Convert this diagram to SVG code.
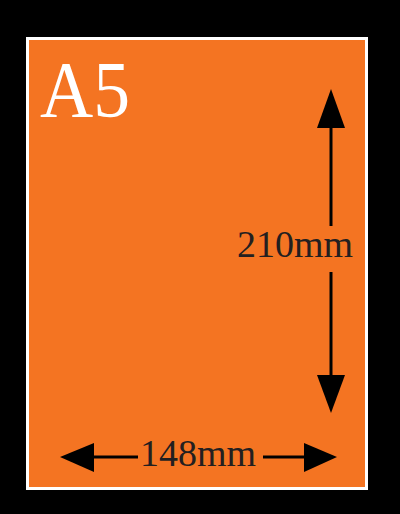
<svg xmlns="http://www.w3.org/2000/svg" width="400" height="514" viewBox="0 0 400 514">
<style>
.lbl{font-family:"Liberation Serif","Times New Roman",serif;font-size:38px;fill:#231f20}
.line{stroke:#000;stroke-width:3;fill:none}
.head{fill:#000}
</style>
<rect x="0" y="0" width="400" height="514" fill="#000"/>
<g id="sheet">
<rect x="27.5" y="38.5" width="339" height="450" fill="#f47422" stroke="#fff" stroke-width="3"/>
<text x="40" y="117" font-family="Liberation Serif,'Times New Roman',serif" font-size="80" fill="#fff" textLength="90" lengthAdjust="spacingAndGlyphs">A5</text>
</g>
<g id="connectors">
<line class="line" x1="331" y1="125" x2="331" y2="226"/>
<polygon class="head" points="331,89 317,128 345,128"/>
<line class="line" x1="331" y1="272" x2="331" y2="377"/>
<polygon class="head" points="331,413 317,375 345,375"/>
<line class="line" x1="91" y1="457" x2="138" y2="457"/>
<polygon class="head" points="60,457 94,443 94,472"/>
<line class="line" x1="263" y1="457" x2="307" y2="457"/>
<polygon class="head" points="337,457 304,443 304,472"/>
</g>
<g id="label-height"><text class="lbl" x="237" y="257" textLength="116" lengthAdjust="spacingAndGlyphs">210mm</text></g>
<g id="label-width"><text class="lbl" x="140" y="466" textLength="116" lengthAdjust="spacingAndGlyphs">148mm</text></g>
</svg>
